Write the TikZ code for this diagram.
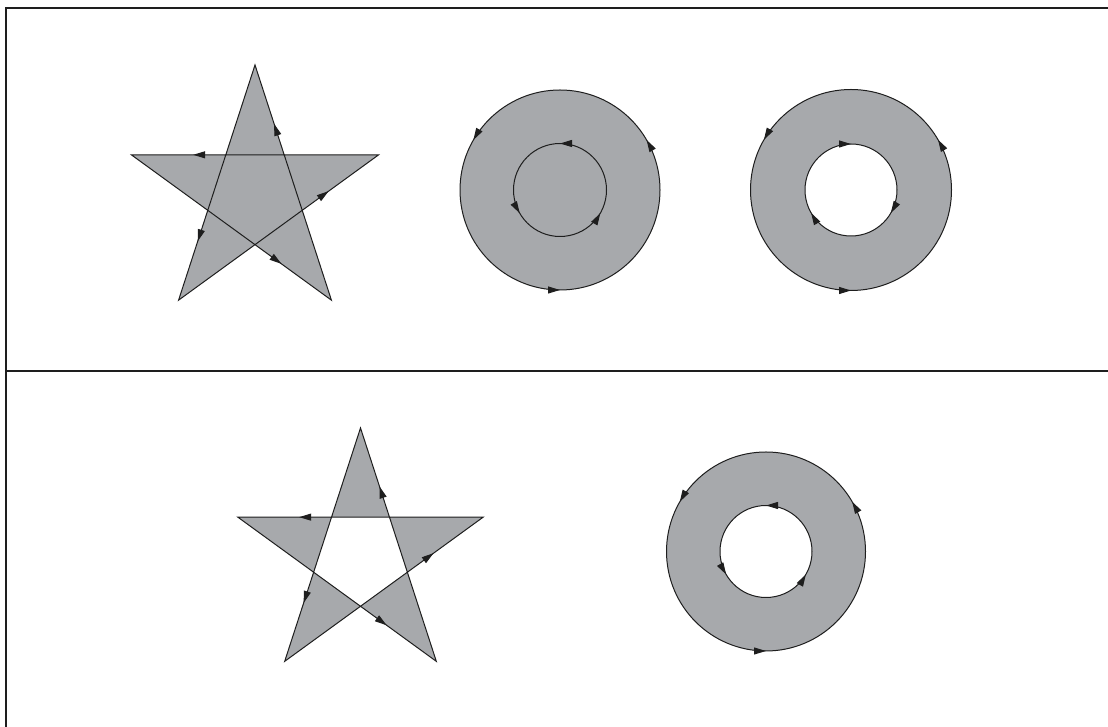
\documentclass[tikz,border=0pt]{standalone}
\usetikzlibrary{arrows.meta,decorations.markings}
\definecolor{fillgray}{RGB}{167,169,172}
\definecolor{ink}{RGB}{30,30,30}
\tikzset{
  tip/.tip={Triangle[length=12pt,width=7pt]},
  frameline/.style={line width=1.3pt, draw=ink},
  outline/.style={line width=1pt, draw=ink, line join=miter},
  starline/.style={outline, postaction={decorate}, decoration={markings,
    mark=at position 0.15 with {\arrow{tip}},
    mark=at position 0.35 with {\arrow{tip}},
    mark=at position 0.55 with {\arrow{tip}},
    mark=at position 0.75 with {\arrow{tip}},
    mark=at position 0.95 with {\arrow{tip}}}},
  ringline/.style={outline, postaction={decorate}, decoration={markings,
    mark=at position 0.0833 with {\arrow{tip}},
    mark=at position 0.4167 with {\arrow{tip}},
    mark=at position 0.75 with {\arrow{tip}}}},
  innerccw/.style={outline, postaction={decorate}, decoration={markings,
    mark=at position 0.25 with {\arrow{tip}},
    mark=at position 0.5833 with {\arrow{tip}},
    mark=at position 0.9167 with {\arrow{tip}}}},
}
\begin{document}
\begin{tikzpicture}[x=1pt,y=1pt]
\useasboundingbox (0,0) rectangle (1108,727);
% frame
\coordinate (ftr) at (1108,719);
\coordinate (ftl) at (6,719);
\coordinate (fbl) at (6,0);
\coordinate (fml) at (6,356);
\coordinate (fmr) at (1108,356);
\draw[frameline] (ftr) -- (ftl) -- (fbl);
\draw[frameline] (fml) -- (fmr);

% star 1 (nonzero fill)
\begin{scope}[shift={(255,532)}]
  \coordinate (a1) at (90:130);
  \coordinate (b1) at (234:130);
  \coordinate (c1) at (18:130);
  \coordinate (d1) at (162:130);
  \coordinate (e1) at (306:130);
  \fill[fillgray, nonzero rule] (a1) -- (b1) -- (c1) -- (d1) -- (e1) -- cycle;
  \draw[starline] (a1) -- (b1) -- (c1) -- (d1) -- (e1) -- cycle;
\end{scope}

% star 2 (even odd fill)
\begin{scope}[shift={(360.5,170)}]
  \coordinate (a2) at (90:129);
  \coordinate (b2) at (234:129);
  \coordinate (c2) at (18:129);
  \coordinate (d2) at (162:129);
  \coordinate (e2) at (306:129);
  \fill[fillgray, even odd rule] (a2) -- (b2) -- (c2) -- (d2) -- (e2) -- cycle;
  \draw[starline] (a2) -- (b2) -- (c2) -- (d2) -- (e2) -- cycle;
\end{scope}

% ring 1: both counterclockwise, nonzero -> full disc
\coordinate (r1) at (560,537);
\fill[fillgray, nonzero rule] (r1) circle[radius=100] (r1) circle[radius=46.5];
\draw[ringline] (r1) ++(100,0) arc[start angle=0, end angle=360, radius=100];
\draw[innerccw] (r1) ++(46.5,0) arc[start angle=0, end angle=360, radius=46.5];

% ring 2: inner clockwise, hole
\coordinate (r2) at (851,537);
\fill[fillgray, even odd rule] (r2) circle[radius=100.5] (r2) circle[radius=46];
\draw[ringline] (r2) ++(100.5,0) arc[start angle=0, end angle=360, radius=100.5];
\draw[ringline] (r2) ++(46,0) arc[start angle=0, end angle=-360, radius=46];

% ring 3: both counterclockwise, even odd -> hole
\coordinate (r3) at (766,175.5);
\fill[fillgray, even odd rule] (r3) circle[radius=99.5] (r3) circle[radius=46];
\draw[ringline] (r3) ++(99.5,0) arc[start angle=0, end angle=360, radius=99.5];
\draw[innerccw] (r3) ++(46,0) arc[start angle=0, end angle=360, radius=46];
\end{tikzpicture}
\end{document}
